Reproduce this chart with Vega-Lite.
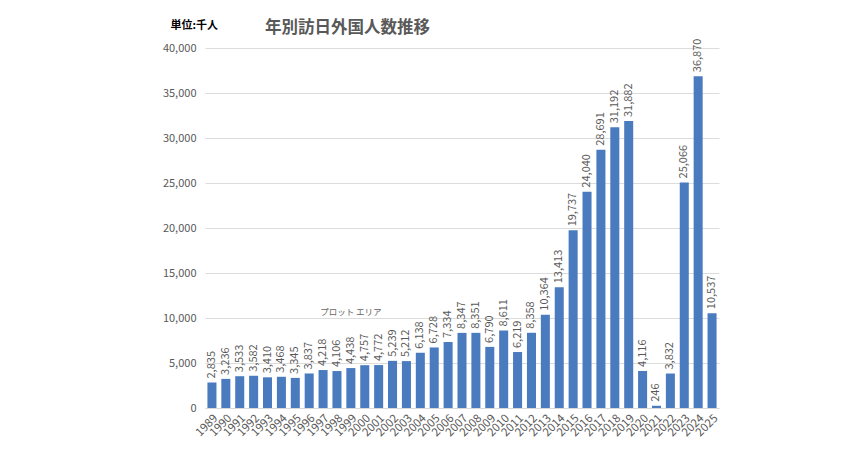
{
  "$schema": "https://vega.github.io/schema/vega-lite/v6.json",
  "autosize": {"type": "none"},
  "padding": {"left": 205, "top": 48, "right": 131, "bottom": 42},
  "width": 514,
  "height": 360,
  "background": "white",
  "title": {
    "text": "年別訪日外国人数推移",
    "anchor": "start",
    "frame": "group",
    "dx": 60,
    "dy": 21,
    "fontSize": 16.5,
    "fontWeight": "bold",
    "color": "#595959",
    "font": "Noto Sans CJK JP"
  },
  "datasets": {
    "visitors": [
      {"year": "1989", "value": 2835},
      {"year": "1990", "value": 3236},
      {"year": "1991", "value": 3533},
      {"year": "1992", "value": 3582},
      {"year": "1993", "value": 3410},
      {"year": "1994", "value": 3468},
      {"year": "1995", "value": 3345},
      {"year": "1996", "value": 3837},
      {"year": "1997", "value": 4218},
      {"year": "1998", "value": 4106},
      {"year": "1999", "value": 4438},
      {"year": "2000", "value": 4757},
      {"year": "2001", "value": 4772},
      {"year": "2002", "value": 5239},
      {"year": "2003", "value": 5212},
      {"year": "2004", "value": 6138},
      {"year": "2005", "value": 6728},
      {"year": "2006", "value": 7334},
      {"year": "2007", "value": 8347},
      {"year": "2008", "value": 8351},
      {"year": "2009", "value": 6790},
      {"year": "2010", "value": 8611},
      {"year": "2011", "value": 6219},
      {"year": "2012", "value": 8358},
      {"year": "2013", "value": 10364},
      {"year": "2014", "value": 13413},
      {"year": "2015", "value": 19737},
      {"year": "2016", "value": 24040},
      {"year": "2017", "value": 28691},
      {"year": "2018", "value": 31192},
      {"year": "2019", "value": 31882},
      {"year": "2020", "value": 4116},
      {"year": "2021", "value": 246},
      {"year": "2022", "value": 3832},
      {"year": "2023", "value": 25066},
      {"year": "2024", "value": 36870},
      {"year": "2025", "value": 10537}
    ],
    "note": [
      {"year": "1999", "value": 10650, "label": "プロット エリア"}
    ]
  },
  "encoding": {
    "x": {
      "field": "year",
      "type": "nominal",
      "sort": null,
      "scale": {"paddingInner": 0.35, "paddingOuter": 0.175},
      "axis": {
        "title": null,
        "labelAngle": -45,
        "labelColor": "#595959",
        "labelFontSize": 11.5,
        "labelPadding": 4,
        "ticks": false,
        "domainColor": "#d9d9d9",
        "grid": false
      }
    },
    "y": {
      "field": "value",
      "type": "quantitative",
      "scale": {"domain": [0, 40000], "nice": false},
      "axis": {
        "values": [0, 5000, 10000, 15000, 20000, 25000, 30000, 35000, 40000],
        "format": ",.0f",
        "labelColor": "#595959",
        "labelFontSize": 11,
        "labelPadding": 9,
        "domain": false,
        "ticks": false,
        "gridColor": "#dcdcdc",
        "title": "単位:千人",
        "titleAngle": 0,
        "titleX": -35,
        "titleY": -23,
        "titleAlign": "left",
        "titleBaseline": "middle",
        "titleFontSize": 11,
        "titleFontWeight": "bold",
        "titleColor": "#000000"
      }
    }
  },
  "layer": [
    {
      "data": {"name": "visitors"},
      "mark": {"type": "bar", "color": "#4a7bbf"}
    },
    {
      "data": {"name": "visitors"},
      "mark": {"type": "text", "angle": 270, "align": "left", "baseline": "middle", "dx": 4, "fontSize": 11, "color": "#595959"},
      "encoding": {"text": {"field": "value", "type": "quantitative", "format": ","}}
    },
    {
      "data": {"name": "note"},
      "mark": {"type": "text", "align": "center", "baseline": "middle", "fontSize": 8.5, "color": "#666666"},
      "encoding": {"text": {"field": "label", "type": "nominal"}}
    }
  ],
  "config": {
    "font": "Noto Sans CJK JP",
    "view": {"stroke": null}
  }
}
